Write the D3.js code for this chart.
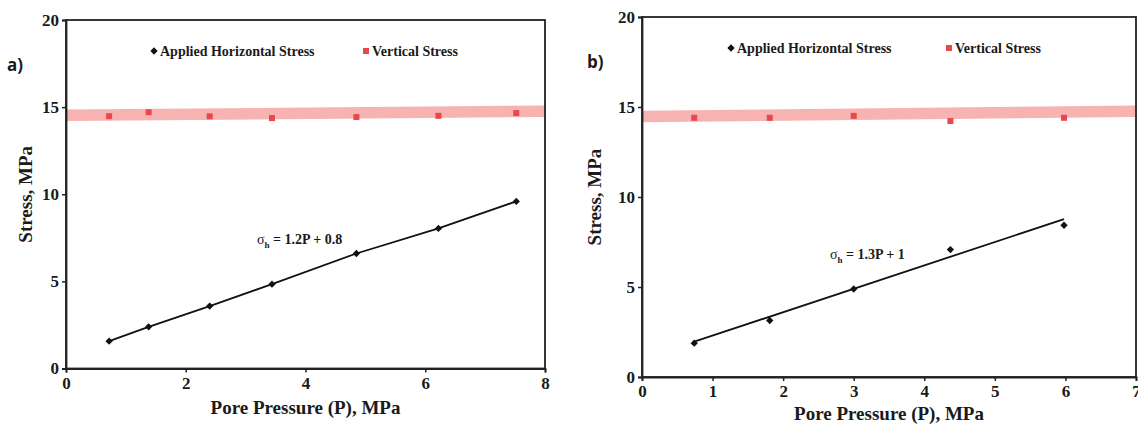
<!DOCTYPE html>
<html>
<head>
<meta charset="utf-8">
<script src="https://cdn.jsdelivr.net/npm/d3@7"></script>
<style>
  html, body { margin: 0; padding: 0; background: #fff; }
  svg { display: block; }
  text { font-family: "Liberation Serif", "Times New Roman", serif; font-weight: bold; fill: #1a1a1a; }
</style>
</head>
<body>
<svg id="chart" width="1138" height="427"></svg>
<script>
// Panel a) — measurements
const aPore      = [0.72, 1.38, 2.40, 3.44, 4.85, 6.22, 7.52];
const aHoriz     = [1.57, 2.39, 3.58, 4.84, 6.60, 8.04, 9.59];
const aVertical  = [14.48, 14.71, 14.47, 14.37, 14.43, 14.50, 14.66];
const aBandX     = [0, 8];
const aBandLow   = [14.20, 14.44];
const aBandHigh  = [14.86, 15.10];
const aXTicks    = [0, 2, 4, 6, 8];

// Panel b) — measurements
const bPore      = [0.74, 1.81, 3.00, 4.37, 5.98];
const bHoriz     = [1.88, 3.14, 4.89, 7.08, 8.43];
const bVertical  = [14.40, 14.40, 14.51, 14.22, 14.40];
const bBandX     = [0, 7];
const bBandLow   = [14.15, 14.45];
const bBandHigh  = [14.79, 15.09];
const bXTicks    = [0, 1, 2, 3, 4, 5, 6, 7];
const bFit       = [1.3, 1];   // σh = 1.3P + 1

const yTicks = [0, 5, 10, 15, 20];

const svg = d3.select("#chart");
const RED = "#e8484b";
const BAND = "#f7b2b2";

function drawPanel(o) {
  const g = svg.append("g");
  const x = d3.scaleLinear().domain(o.xDomain).range([o.left, o.right]);
  const y = d3.scaleLinear().domain([0, 20]).range([o.bottom, o.top]);

  // vertical-stress band
  const band = o.bandX.map((v, i) => ({ x: v, lo: o.bandLow[i], hi: o.bandHigh[i] }));
  g.append("path")
    .datum(band)
    .attr("fill", BAND)
    .attr("d", d3.area().x(d => x(d.x)).y0(d => y(d.lo)).y1(d => y(d.hi)));

  // frame
  g.append("rect")
    .attr("x", o.left).attr("y", o.top)
    .attr("width", o.right - o.left).attr("height", o.bottom - o.top)
    .attr("fill", "none").attr("stroke", "#222").attr("stroke-width", 1.8);

  // axes
  const xAxis = d3.axisBottom(x).tickValues(o.xTicks).tickSize(4).tickPadding(4).tickFormat(d3.format("d"));
  const yAxis = d3.axisLeft(y).tickValues(yTicks).tickSize(4).tickPadding(3).tickFormat(d3.format("d"));
  const gx = g.append("g").attr("transform", `translate(0,${o.bottom})`).call(xAxis);
  const gy = g.append("g").attr("transform", `translate(${o.left},0)`).call(yAxis);
  [gx, gy].forEach(a => {
    a.select(".domain").attr("stroke", "#222").attr("stroke-width", 1.8);
    a.selectAll(".tick line").attr("stroke", "#222").attr("stroke-width", 1.5);
    a.selectAll(".tick text")
      .style("font-family", '"Liberation Serif", serif')
      .style("font-weight", "bold")
      .style("font-size", "17px")
      .attr("fill", "#1a1a1a");
  });

  // horizontal stress line
  let lineData;
  if (o.fit) {
    const x0 = d3.min(o.pore), x1 = d3.max(o.pore);
    lineData = [[x0, o.fit[0] * x0 + o.fit[1]], [x1, o.fit[0] * x1 + o.fit[1]]];
  } else {
    lineData = o.pore.map((p, i) => [p, o.horiz[i]]);
  }
  g.append("path")
    .datum(lineData)
    .attr("fill", "none").attr("stroke", "#111").attr("stroke-width", 1.8)
    .attr("d", d3.line().x(d => x(d[0])).y(d => y(d[1])));

  // diamonds
  const diamond = d3.symbol().type(d3.symbolDiamond2).size(34);
  g.selectAll(".hz").data(o.pore).join("path")
    .attr("transform", (d, i) => `translate(${x(d)},${y(o.horiz[i])})`)
    .attr("d", diamond).attr("fill", "#111");

  // vertical stress squares
  g.selectAll(".vt").data(o.pore).join("rect")
    .attr("x", (d) => x(d) - 3).attr("y", (d, i) => y(o.vertical[i]) - 3)
    .attr("width", 6).attr("height", 6).attr("fill", RED);

  // legend
  g.append("path").attr("transform", `translate(${o.legX},${o.legY - 5})`)
    .attr("d", diamond).attr("fill", "#111");
  g.append("text").attr("x", o.legX + 6).attr("y", o.legY).style("font-size", "14px")
    .text("Applied Horizontal Stress");
  g.append("rect").attr("x", o.legX2 - 3).attr("y", o.legY - 8).attr("width", 6).attr("height", 6).attr("fill", RED);
  g.append("text").attr("x", o.legX2 + 6).attr("y", o.legY).style("font-size", "14px")
    .text("Vertical Stress");

  // equation
  const eq = g.append("text").attr("x", o.eqX).attr("y", o.eqY).style("font-size", "14px");
  eq.append("tspan").style("font-weight", "normal").text("σ");
  eq.append("tspan").attr("dy", 4).style("font-size", "9px").text("h");
  eq.append("tspan").attr("dy", -4).text(" = " + o.eqText);

  // axis titles
  g.append("text")
    .attr("x", (o.left + o.right) / 2).attr("y", o.xTitleY)
    .attr("text-anchor", "middle").style("font-size", "19px")
    .text("Pore Pressure (P), MPa");
  g.append("text")
    .attr("transform", `translate(${o.yTitleX},${(o.top + o.bottom) / 2}) rotate(-90)`)
    .attr("text-anchor", "middle").style("font-size", "19px")
    .text("Stress, MPa");

  // panel tag
  g.append("text")
    .attr("x", o.tagX).attr("y", o.tagY)
    .style("font-family", '"Open Sans", "Liberation Sans", sans-serif')
    .style("font-weight", "bold").style("font-size", "17px")
    .attr("fill", "#222")
    .text(o.tag);
}

drawPanel({
  left: 66, right: 545, top: 20, bottom: 368.5,
  xDomain: [0, 8], xTicks: aXTicks,
  pore: aPore, horiz: aHoriz, vertical: aVertical,
  bandX: aBandX, bandLow: aBandLow, bandHigh: aBandHigh,
  fit: null,
  legX: 154, legX2: 366, legY: 56,
  eqX: 257, eqY: 244, eqText: "1.2P + 0.8",
  xTitleY: 414, yTitleX: 32,
  tag: "a)", tagX: 7, tagY: 71
});

drawPanel({
  left: 642, right: 1136, top: 17, bottom: 377,
  xDomain: [0, 7], xTicks: bXTicks,
  pore: bPore, horiz: bHoriz, vertical: bVertical,
  bandX: bBandX, bandLow: bBandLow, bandHigh: bBandHigh,
  fit: bFit,
  legX: 731, legX2: 949, legY: 53,
  eqX: 830, eqY: 259, eqText: "1.3P + 1",
  xTitleY: 420, yTitleX: 601,
  tag: "b)", tagX: 587, tagY: 68
});
</script>
</body>
</html>
